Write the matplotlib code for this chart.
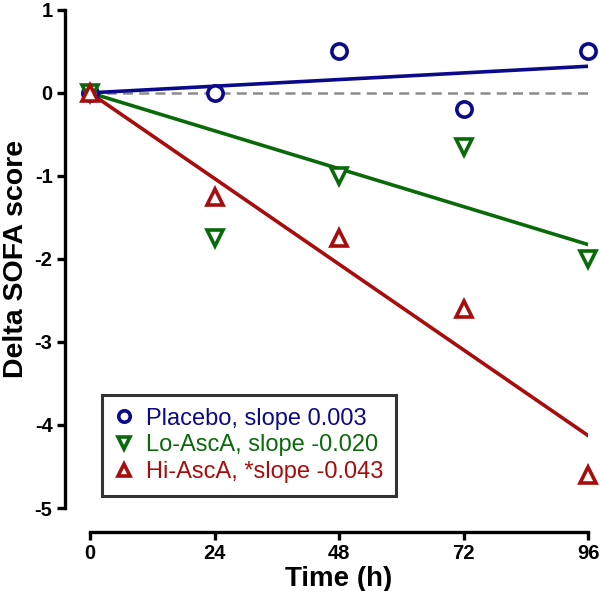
import matplotlib
matplotlib.use("Agg")
import matplotlib.pyplot as plt
import numpy as np

plt.rcParams['font.family'] = ['Liberation Sans', 'DejaVu Sans']
plt.rcParams['axes.unicode_minus'] = False

time_h = [0, 24, 48, 72, 96]
placebo = [0, 0, 0.5, -0.2, 0.5]
lo_asca = [0, -1.75, -1.0, -0.65, -2.0]
hi_asca = [0, -1.25, -1.75, -2.6, -4.6]
slopes = [0.003, -0.020, -0.043]
labels = ['Placebo, slope 0.003', 'Lo-AscA, slope -0.020', 'Hi-AscA, *slope -0.043']
colors = ['#0a0a8a', '#0a6a0a', '#a80c0c']
markers = ['o', 'v', '^']
xticks = [0, 24, 48, 72, 96]
yticks = [-5, -4, -3, -2, -1, 0, 1]

fig = plt.figure(figsize=(6.0, 5.91), dpi=100)
ax = fig.add_axes([0.15, 0.1404, 0.83, 0.843])

x = np.array(time_h, dtype=float)
ax.plot([0, 96], [0, 0], ls=(0, (4, 2.5)), color='#8c8c8c', lw=1.8, zorder=1)

handles = []
for ys, c, m, lab in zip([placebo, lo_asca, hi_asca], colors, markers, labels):
    ys = np.array(ys, dtype=float)
    s = np.sum(x * ys) / np.sum(x * x)  # regression through origin
    ax.plot([0, 96], [0, s * 96], color=c, lw=2.6, zorder=2)
    h, = ax.plot(x, ys, ls='none', marker=m, ms=11, mfc='white', mec=c,
                 mew=2.6, clip_on=False, zorder=3, label=lab)
    handles.append(h)

ax.set_xlim(0, 96)
ax.set_ylim(-5, 1)
ax.set_xticks(xticks)
ax.set_yticks(yticks)
for side in ['top', 'right']:
    ax.spines[side].set_visible(False)
ax.spines['left'].set_position(('outward', 18))
ax.spines['bottom'].set_position(('outward', 17))
ax.spines['left'].set_linewidth(2.4)
ax.spines['bottom'].set_linewidth(2.4)
ax.tick_params(width=2.4, length=6, labelsize=14.5, pad=3)
for t in ax.get_xticklabels() + ax.get_yticklabels():
    t.set_fontweight('bold')

ax.set_xlabel('Time (h)', fontsize=20, fontweight='bold', labelpad=2)
ax.set_ylabel('Delta SOFA score', fontsize=20.5, fontweight='bold', labelpad=4)

leg = ax.legend(handles=handles, loc='lower left', bbox_to_anchor=(0.025, 0.024),
                fontsize=17, frameon=True, fancybox=False, edgecolor='black',
                handlelength=0.7, handletextpad=0.6, borderpad=0.55,
                labelspacing=0.2, markerscale=0.75, borderaxespad=0.0)
leg.get_frame().set_linewidth(2.2)
for t, c in zip(leg.get_texts(), colors):
    t.set_color(c)

fig.savefig('out.png', dpi=100)
